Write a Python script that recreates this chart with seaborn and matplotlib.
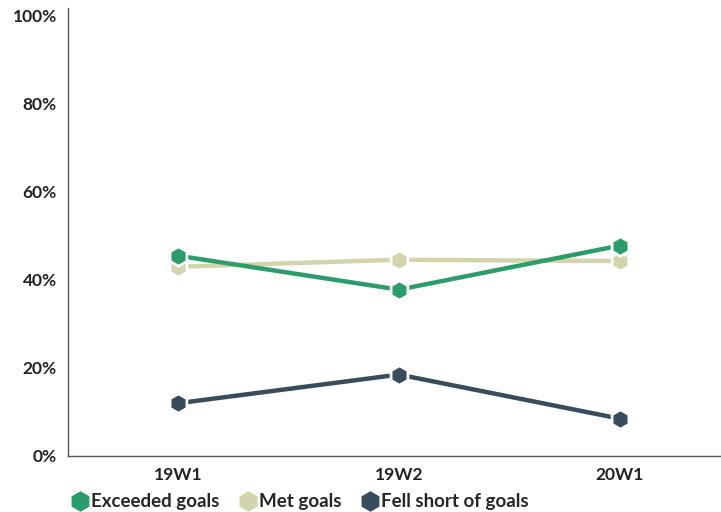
import matplotlib.pyplot as plt
import seaborn as sns
import pandas as pd

waves = ["19W1", "19W2", "20W1"]
exceeded = [45.5, 37.8, 47.8]
met = [43.0, 44.6, 44.3]
fell_short = [12.0, 18.5, 8.5]
series_names = ["Exceeded goals", "Met goals", "Fell short of goals"]
colors = ["#2a9d6b", "#d3d4ac", "#374c5c"]

df = pd.DataFrame({"wave": waves * 3,
                   "value": exceeded + met + fell_short,
                   "group": [n for n in series_names for _ in waves]})

sns.set_style("white")
plt.rcParams['font.family'] = ['Lato', 'DejaVu Sans']

fig = plt.figure(figsize=(7.21, 5.12), dpi=100)
ax = fig.add_axes([68 / 721, 1 - 456 / 512, 1 - 68 / 721, 448 / 512])

sns.lineplot(data=df, x="wave", y="value", hue="group", palette=colors,
             marker="h", markersize=14, markeredgecolor="white", markeredgewidth=2,
             linewidth=3.2, sort=False, ax=ax, legend=False)
# green on top of the beige line, as in the original
for z, line in zip([4, 3, 2], ax.lines):
    line.set_zorder(z)

ax.set_xlim(-0.5, 2.46)
ax.set_ylim(0, 101.8)
ax.set_yticks([0, 20, 40, 60, 80, 100])
ax.set_yticklabels([f"{v}%" for v in [0, 20, 40, 60, 80, 100]])
ax.set_xlabel("")
ax.set_ylabel("")
for side in ["top", "right"]:
    ax.spines[side].set_visible(False)
for side in ["left", "bottom"]:
    ax.spines[side].set_color("#555555")
    ax.spines[side].set_linewidth(1)
ax.tick_params(axis="both", length=0, labelsize=12.5, colors="#222222")
ax.tick_params(axis="y", pad=8)
ax.tick_params(axis="x", pad=8)
for lab in ax.get_xticklabels() + ax.get_yticklabels():
    lab.set_fontweight("bold")

handles = [plt.Line2D([], [], linestyle="", marker="h", markersize=16,
                      color=c, markeredgecolor="white") for c in colors]
fig.legend(handles, series_names, loc="lower left", bbox_to_anchor=(52 / 721, -0.03),
           ncol=3, frameon=False, handletextpad=0.0, columnspacing=0.9,
           handlelength=1.2, prop={"weight": "bold", "size": 13.5})

fig.savefig("out.png", dpi=100)
